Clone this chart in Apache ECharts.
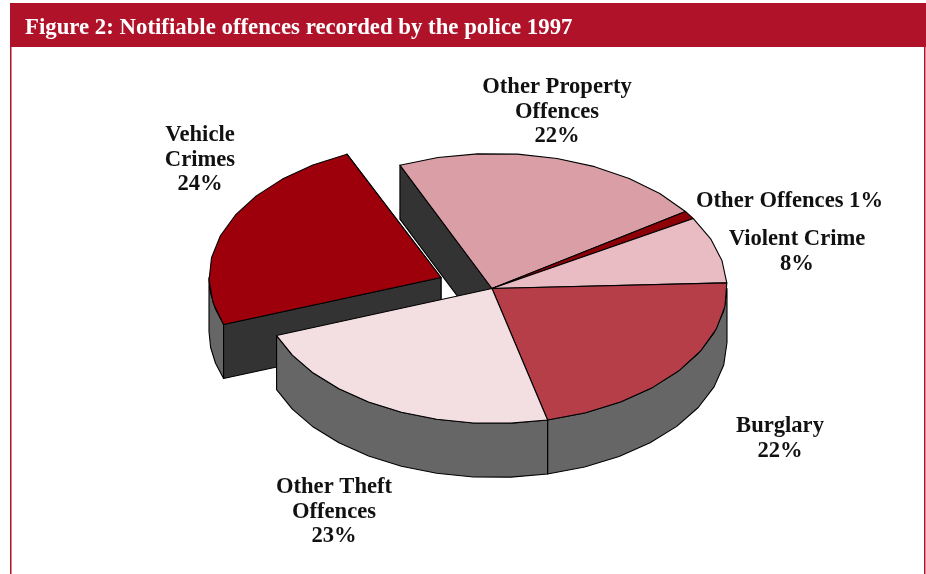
<!DOCTYPE html>
<html>
<head>
<meta charset="utf-8">
<title>Notifiable offences recorded by the police 1997</title>
<style>
  html, body { margin: 0; padding: 0; background: #fff; }
  #chart { width: 926px; height: 574px; }
</style>
<script src="https://cdn.jsdelivr.net/npm/echarts@6/dist/echarts.min.js"></script>
</head>
<body>
<div id="chart"></div>
<script>
// Offence categories, listed clockwise from the top-left of the pie.
const offenceNames = ['Other Property\nOffences', 'Other Offences', 'Violent Crime', 'Burglary', 'Other Theft\nOffences', 'Vehicle\nCrimes'];
const offenceShares = [22, 1, 8, 22, 23, 24];
const sliceColours = ['#DA9FA6', '#8E0008', '#E8BCC2', '#B63E49', '#F3DFE2', '#9E000B'];
const explodedSlice = [0, 0, 0, 0, 0, 1];
const chartTitle = 'Figure 2: Notifiable offences recorded by the police 1997';

// Shape of the tilted disc: the apex sits slightly left of the rim's centre.
const disc = { apexX: 492, cx: 494.5, cy: 288.5, rx: 232.5, ry: 135, depth: 54, startDeg: 114, facetDeg: 10, explodeApexX: -51, explodeRimX: -53, explodeY: -11 };
const WALL_OUTER = '#666666';
const WALL_CUT = '#333333';
const RED = '#B0122A';
const labelFont = 'bold 22.6px "Liberation Serif", serif';

// Label centres, one per category.
const labelCentres = [[557, 112], [789.5, 201], [797, 251.5], [780, 438.5], [334, 512], [200, 160]];

const total = offenceShares.reduce((a, b) => a + b, 0);

function rimPoint(deg, ox, oy) {
  const t = deg * Math.PI / 180;
  return [disc.cx + ox + disc.rx * Math.cos(t), disc.cy + oy - disc.ry * Math.sin(t)];
}

function arcPoints(fromDeg, toDeg, ox, oy) {
  const n = Math.max(1, Math.ceil(Math.abs(fromDeg - toDeg) / disc.facetDeg));
  const pts = [];
  for (let i = 0; i <= n; i++) pts.push(rimPoint(fromDeg + (toDeg - fromDeg) * i / n, ox, oy));
  return pts;
}

const lowered = (p) => [p[0], p[1] + disc.depth];
const edge = { stroke: '#000', lineWidth: 1.1, lineJoin: 'round' };

function poly(points, fill, z2) {
  return { type: 'polygon', z2, shape: { points }, style: Object.assign({ fill }, edge), silent: true };
}

function renderSlice(params, api) {
  const i = params.dataIndex;
  const value = api.value(0);
  const before = offenceShares.slice(0, i).reduce((a, b) => a + b, 0);
  const from = disc.startDeg - before / total * 360;
  const to = from - value / total * 360;
  const ox = explodedSlice[i] ? disc.explodeRimX : 0;
  const oy = explodedSlice[i] ? disc.explodeY : 0;
  const apex = [disc.apexX + (explodedSlice[i] ? disc.explodeApexX : 0), disc.cy + oy];
  const base = explodedSlice[i] ? 10 : (i === 0 ? 0 : 20);
  const children = [];

  // Outer rim: only the stretch facing the viewer is seen.
  const frontFrom = Math.min(from, 0);
  const frontTo = Math.max(to, -180);
  if (frontFrom > frontTo) {
    const rim = arcPoints(frontFrom, frontTo, ox, oy);
    children.push(poly(rim.concat(rim.map(lowered).reverse()), WALL_OUTER, base + 1));
  }

  // Cut faces exposed where the exploded slice has been pulled away.
  if (explodedSlice[i]) {
    const a = rimPoint(to + 360, ox, oy);
    const b = rimPoint(from, ox, oy);
    children.push(poly([apex, a, lowered(a), lowered(apex)], WALL_CUT, base));
    children.push(poly([apex, b, lowered(b), lowered(apex)], WALL_CUT, base + 1));
  } else if (i === 0) {
    const a = rimPoint(from, 0, 0);
    children.push(poly([apex, a, lowered(a), lowered(apex)], WALL_CUT, base + 1));
  }

  // Top face.
  children.push(poly([apex].concat(arcPoints(from, to, ox, oy)), api.visual('color'), base + 2));

  // Category label with its percentage.
  const inline = offenceNames[i] === 'Other Offences';
  children.push({
    type: 'text', z2: 40, silent: true,
    style: {
      x: labelCentres[i][0], y: labelCentres[i][1],
      text: offenceNames[i] + (inline ? ' ' : '\n') + value + '%',
      font: labelFont, fill: '#111', align: 'center', verticalAlign: 'middle', lineHeight: 24.5
    }
  });
  return { type: 'group', children };
}

const chart = echarts.init(document.getElementById('chart'));
chart.setOption({
  animation: false,
  backgroundColor: '#fff',
  title: {
    text: chartTitle, left: 25, top: 16, padding: 0,
    textStyle: { color: '#fff', fontFamily: '"Liberation Serif", serif', fontWeight: 'bold', fontSize: 22.8, lineHeight: 24 }
  },
  graphic: [
    { type: 'rect', z: -1, shape: { x: 10, y: 3, width: 916, height: 44 }, style: { fill: RED } },
    { type: 'rect', z: -1, shape: { x: 10, y: 47, width: 1.5, height: 527 }, style: { fill: RED } },
    { type: 'rect', z: -1, shape: { x: 924, y: 47, width: 1.5, height: 527 }, style: { fill: RED } }
  ],
  series: [{
    type: 'custom',
    coordinateSystem: 'none',
    renderItem: renderSlice,
    data: offenceShares.map((v, i) => ({ name: offenceNames[i], value: [v], itemStyle: { color: sliceColours[i] } }))
  }]
});
</script>
</body>
</html>
